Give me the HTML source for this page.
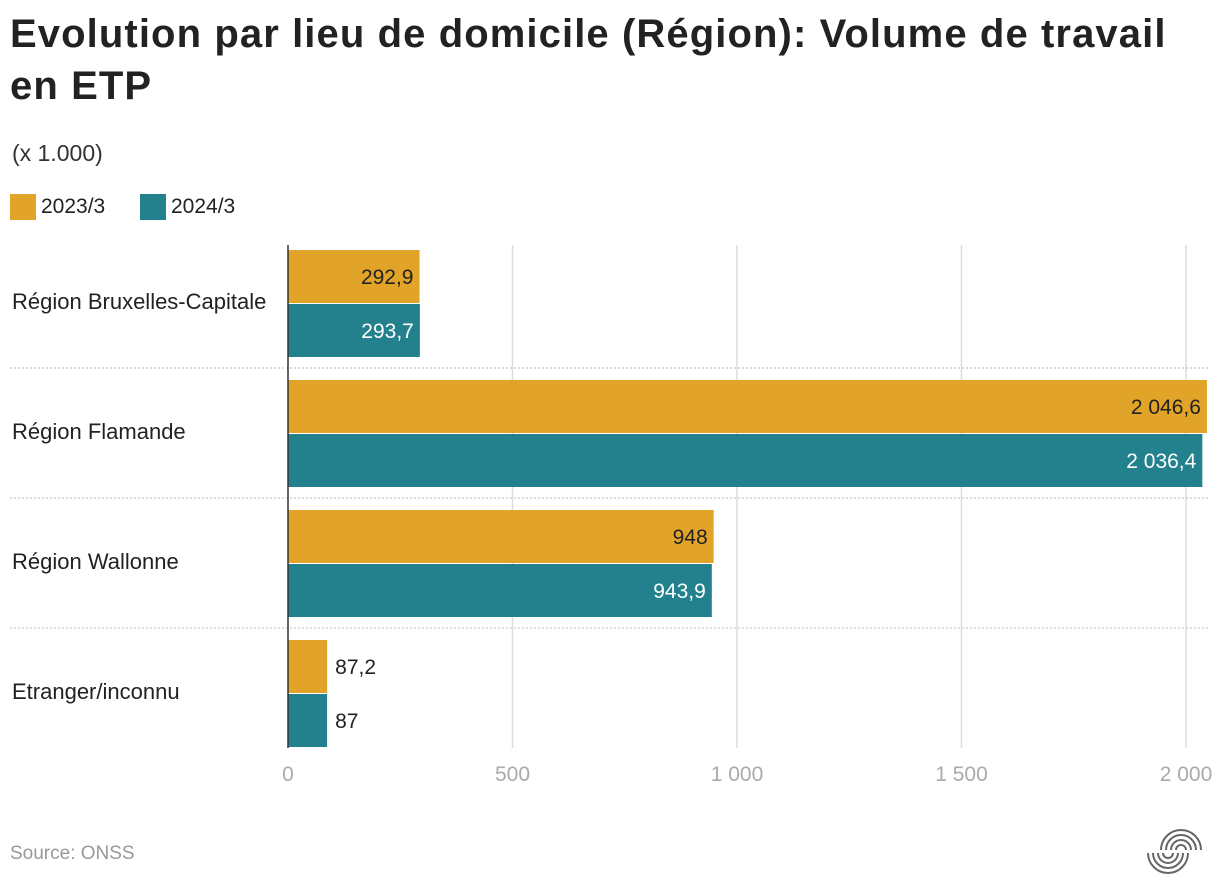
<!DOCTYPE html>
<html><head><meta charset="utf-8"><style>
body{margin:0;width:1220px;height:894px;background:#fff;font-family:"Liberation Sans",sans-serif;color:#222;overflow:hidden;position:relative}
.t{position:absolute;left:10px;top:8px;font-size:40px;font-weight:bold;line-height:52px;letter-spacing:1.1px;margin:0}
.sub{position:absolute;left:12px;top:140px;font-size:23px;color:#333}
.leg{position:absolute;top:194px;font-size:21px;display:flex;align-items:center}
.sw{width:26px;height:26px;margin-right:5px}
.src{position:absolute;left:10px;top:843px;font-size:19px;color:#999}
</style></head><body>
<h1 class="t">Evolution par lieu de domicile (Région): Volume de travail<br>en ETP</h1>
<div class="sub">(x 1.000)</div>
<div class="leg" style="left:10px"><div class="sw" style="background:#E1A428"></div>2023/3</div>
<div class="leg" style="left:140px"><div class="sw" style="background:#23808D"></div>2024/3</div>
<svg id="chart" width="1220" height="894" style="position:absolute;left:0;top:0"></svg>
<div class="src">Source: ONSS</div>
<svg width="1220" height="894" style="position:absolute;left:0;top:0;pointer-events:none">
<g fill="none" stroke="#666" stroke-width="2">
<path d="M1161 850a20 20 0 0 1 40 0M1166 850a15 15 0 0 1 30 0M1171 850a10 10 0 0 1 20 0M1176 850a5 5 0 0 1 10 0"/>
<path d="M1148 853a20 20 0 0 0 40 0M1153 853a15 15 0 0 0 30 0M1158 853a10 10 0 0 0 20 0M1163 853a5 5 0 0 0 10 0"/>
</g></svg>
<script>
const categories=["Région Bruxelles-Capitale","Région Flamande","Région Wallonne","Etranger/inconnu"];
const values2023=[292.9,2046.6,948,87.2];
const values2024=[293.7,2036.4,943.9,87];
const labels2023=["292,9","2 046,6","948","87,2"];
const labels2024=["293,7","2 036,4","943,9","87"];
const ticks=[0,500,1000,1500,2000];
const tickLabels=["0","500","1 000","1 500","2 000"];
const svg=document.getElementById('chart');const NS="http://www.w3.org/2000/svg";
const x=v=>288+v*0.449;const gy=i=>250+i*130;
function mk(t,a){const e=document.createElementNS(NS,t);for(const k in a)e.setAttribute(k,a[k]);svg.appendChild(e);return e;}
ticks.forEach((t,i)=>{if(i>0){const l=mk('line',{x1:x(t),x2:x(t),y1:245,y2:748,stroke:'#ddd','stroke-width':1.5});

}
const tx=mk('text',{x:x(t),y:781,'text-anchor':'middle','font-size':21,fill:'#aaa'});tx.textContent=tickLabels[i];

});
for(let i=1;i<4;i++){const l=mk('line',{x1:10,x2:1208,y1:gy(i)-12,y2:gy(i)-12,stroke:'#bbb','stroke-dasharray':'2,2'});

}
categories.forEach((c,i)=>{const y=gy(i);
const lb=mk('text',{x:12,y:y+59,'font-size':22,fill:'#222'});lb.textContent=c;


[[values2023,labels2023,'#E1A428','#222',0],[values2024,labels2024,'#23808D','#fff',54]].forEach(([vs,ls,col,tc,off])=>{
const w=x(vs[i])-288;const r=mk('rect',{x:288,y:y+off,width:w,height:53,fill:col});


const inside=w>80;const t=mk('text',{x:inside?x(vs[i])-6:x(vs[i])+8,y:y+off+34,'text-anchor':inside?'end':'start','font-size':21,fill:inside?tc:'#222'});t.textContent=ls[i];

});});
const ax=mk('line',{x1:288,x2:288,y1:245,y2:748,stroke:'#333','stroke-width':1.5});


</script>
</body></html>
